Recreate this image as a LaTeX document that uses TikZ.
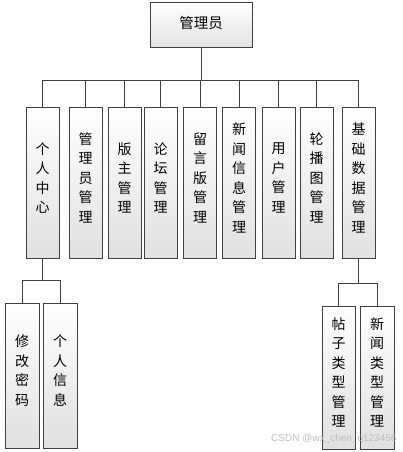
\documentclass[tikz,border=0pt]{standalone}
\usepackage{fontspec}
\setmainfont{Noto Sans CJK SC}
\newfontfamily\markfont{Liberation Sans}
\usetikzlibrary{positioning}

\tikzset{
  box/.style={draw=black!75, line width=1pt, top color=white, bottom color=black!12,
    minimum width=33pt, inner sep=0pt, align=center, text depth=11pt,
    font=\fontsize{14}{19.5}\selectfont},
  link/.style={draw=black!75, line width=1pt},
}

\begin{document}
\begin{tikzpicture}[x=1pt,y=-1pt]
    \useasboundingbox (0,0) rectangle (403,452);

    % Root
    \node[box, minimum width=102pt, minimum height=45pt, text depth=6pt, font=\fontsize{14.5}{16}\selectfont] (admin) at (201,25.5) {管理员};

    % Second level
    \foreach \i/\x/\t in {1/42.5/{个\\人\\中\\心},
                          2/85.5/{管\\理\\员\\管\\理},
                          3/124.5/{版\\主\\管\\理},
                          4/160.5/{论\\坛\\管\\理},
                          5/200/{留\\言\\版\\管\\理},
                          6/239/{新\\闻\\信\\息\\管\\理},
                          7/278.5/{用\\户\\管\\理},
                          8/316.5/{轮\\播\\图\\管\\理},
                          9/358.5/{基\\础\\数\\据\\管\\理}}
        \node[box, minimum height=151pt] (m\i) at (\x,183) {\t};

    % Third level
    \node[box, minimum width=34pt, minimum height=145pt] (pwd) at (22,375.5) {修\\改\\密\\码};
    \node[box, minimum width=34pt, minimum height=145pt] (info) at (60,375.5) {个\\人\\信\\息};
    \node[box, minimum height=143pt] (ptype) at (338.5,377.5) {帖\\子\\类\\型\\管\\理};
    \node[box, minimum width=34pt, minimum height=143pt] (ntype) at (377,377.5) {新\\闻\\类\\型\\管\\理};

    % Connectors
    \coordinate (bus) at (0,80);
    \draw[link] (admin.south) -- (admin.south |- bus);
    \draw[link] (m1.north) -- (m1.north |- bus) -- (m9.north |- bus) -- (m9.north);
    \foreach \i in {2,...,8}
        \draw[link] (m\i.north) -- (m\i.north |- bus);

    \coordinate (lbus) at (0,280);
    \draw[link] (m1.south) -- (m1.south |- lbus);
    \draw[link] (pwd.north) -- (pwd.north |- lbus) -- (info.north |- lbus) -- (info.north);

    \coordinate (rbus) at (0,283);
    \draw[link] (m9.south) -- (m9.south |- rbus);
    \draw[link] (ptype.north) -- (ptype.north |- rbus) -- (ntype.north |- rbus) -- (ntype.north);

    % Watermark
    \node[text=black!25, font=\markfont\fontsize{10}{10}\selectfont, anchor=east] (mark) at (400,439) {CSDN @wx\_chen\_q123456};
\end{tikzpicture}
\end{document}
